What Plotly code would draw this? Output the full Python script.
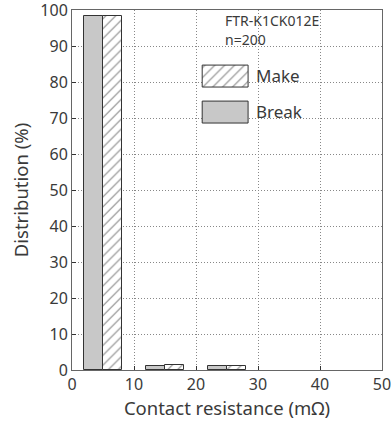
import plotly.graph_objects as go

# ---- data ----
bin_centers = [5, 15, 25]            # contact resistance bins (mΩ)
break_vals = [98.3, 1.0, 1.0]        # Break distribution (%)
make_vals = [98.3, 1.5, 1.0]         # Make distribution (%)
x_ticks = [0, 10, 20, 30, 40, 50]
y_ticks = [0, 10, 20, 30, 40, 50, 60, 70, 80, 90, 100]
model_text = "FTR-K1CK012E"
n_text = "n=200"

FONT = "Noto Sans"
TXT = "#3a3a3a"
EDGE = "#333"
BAR_W = 3
HATCH = dict(shape="/", fgcolor="#111", bgcolor="white", size=7, solidity=0.16)

fig = go.Figure()
fig.add_trace(go.Bar(
    x=bin_centers, y=break_vals, width=BAR_W, offset=-BAR_W,
    marker=dict(color="#c8c8c8", line=dict(color=EDGE, width=1)),
    name="Break", showlegend=False))
fig.add_trace(go.Bar(
    x=bin_centers, y=make_vals, width=BAR_W, offset=0,
    marker=dict(color="white", line=dict(color=EDGE, width=1), pattern=HATCH),
    name="Make", showlegend=False))

# ---- custom legend swatches (data coords of legend box) ----
sw_x = [21.0, 28.4]
make_sw_y = [78.6, 84.7]
break_sw_y = [68.6, 74.7]

def box(xr, yr):
    return [xr[0], xr[1], xr[1], xr[0], xr[0]], [yr[0], yr[0], yr[1], yr[1], yr[0]]

mx, my = box(sw_x, make_sw_y)
fig.add_trace(go.Scatter(x=mx, y=my, mode="lines", fill="toself",
                         fillcolor="white", line=dict(color=EDGE, width=1),
                         fillpattern=HATCH, showlegend=False, hoverinfo="skip"))
bx, by = box(sw_x, break_sw_y)
fig.add_trace(go.Scatter(x=bx, y=by, mode="lines", fill="toself",
                         fillcolor="#c8c8c8", line=dict(color=EDGE, width=1),
                         showlegend=False, hoverinfo="skip"))

# white backgrounds that interrupt the grid behind legend text
for x0, x1, y0, y1 in [(14.5, 31.6, 89.0, 96.5), (19.6, 42.7, 77.2, 86.1), (19.5, 44.8, 66.7, 76.4)]:
    fig.add_shape(type="rect", xref="x", yref="y", x0=x0, x1=x1, y0=y0, y1=y1,
                  fillcolor="white", line=dict(width=0), layer="below")

fig.add_annotation(x=24.4, y=97.2, text=model_text, showarrow=False, xanchor="left",
                   yanchor="middle", font=dict(family=FONT, size=14, color=TXT))
fig.add_annotation(x=24.4, y=91.9, text=n_text, showarrow=False, xanchor="left",
                   yanchor="middle", font=dict(family=FONT, size=14, color=TXT))
fig.add_annotation(x=29.3, y=81.7, text="Make", showarrow=False, xanchor="left",
                   yanchor="middle", font=dict(family=FONT, size=17, color=TXT))
fig.add_annotation(x=29.3, y=71.7, text="Break", showarrow=False, xanchor="left",
                   yanchor="middle", font=dict(family=FONT, size=17, color=TXT))

fig.update_layout(
    width=391, height=425,
    margin=dict(l=72, r=9, t=10, b=55, autoexpand=False),
    paper_bgcolor="white", plot_bgcolor="white",
    barmode="overlay", bargap=0,
    font=dict(family=FONT, color=TXT),
)
fig.update_xaxes(range=[0, 50], tickvals=x_ticks, ticks="inside", ticklen=4,
                 tickcolor=EDGE, showline=True, linecolor="#666", linewidth=1, mirror=True,
                 showgrid=True, gridcolor="#888", griddash="1px,2px", gridwidth=1,
                 zeroline=False, tickfont=dict(size=16, color=TXT), automargin=False,
                 ticklabeloverflow="allow",
                 title=dict(text="Contact resistance (mΩ)", font=dict(size=18.5, color=TXT), standoff=4))
fig.update_yaxes(range=[0, 100], tickvals=y_ticks, ticks="inside", ticklen=4,
                 tickcolor=EDGE, showline=True, linecolor="#666", linewidth=1, mirror=True,
                 showgrid=True, gridcolor="#888", griddash="1px,2px", gridwidth=1,
                 zeroline=False, tickfont=dict(size=16, color=TXT), automargin=False,
                 ticklabeloverflow="allow",
                 title=dict(text="Distribution (%)", font=dict(size=18.5, color=TXT), standoff=6))

fig.write_html("out.html", config={"displayModeBar": False},
               post_script="document.body.style.margin='0';document.body.style.overflow='hidden';")
